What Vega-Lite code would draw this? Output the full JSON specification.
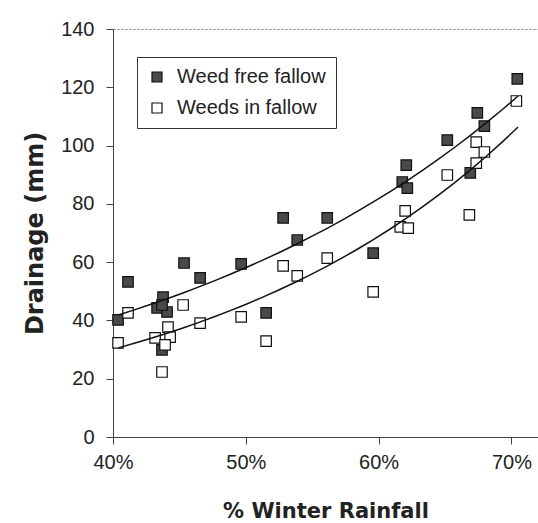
{
  "$schema": "https://vega.github.io/schema/vega-lite/v6.json",
  "width": 425,
  "height": 408,
  "autosize": {"type": "none"},
  "padding": {"left": 113, "top": 29, "right": 0, "bottom": 86},
  "background": "white",
  "config": {
    "view": {"stroke": null},
    "font": "Liberation Sans",
    "axis": {
      "labelFont": "Liberation Sans",
      "labelFontSize": 20,
      "labelColor": "#222",
      "titleFont": "DejaVu Sans",
      "titleFontWeight": "bold",
      "titleColor": "#222",
      "domainColor": "#444",
      "tickColor": "#444",
      "grid": false,
      "tickSize": 7,
      "labelFlush": false
    }
  },
  "data": {
    "values": [
      {"series": "Weed free fallow", "rainfall": 0.4038, "drainage": 40.2},
      {"series": "Weed free fallow", "rainfall": 0.4113, "drainage": 53.2},
      {"series": "Weed free fallow", "rainfall": 0.4377, "drainage": 48.0},
      {"series": "Weed free fallow", "rainfall": 0.4332, "drainage": 44.3},
      {"series": "Weed free fallow", "rainfall": 0.4407, "drainage": 42.9},
      {"series": "Weed free fallow", "rainfall": 0.4369, "drainage": 45.3},
      {"series": "Weed free fallow", "rainfall": 0.4369, "drainage": 29.9},
      {"series": "Weed free fallow", "rainfall": 0.4535, "drainage": 59.7},
      {"series": "Weed free fallow", "rainfall": 0.4656, "drainage": 54.6},
      {"series": "Weed free fallow", "rainfall": 0.4965, "drainage": 59.4},
      {"series": "Weed free fallow", "rainfall": 0.5153, "drainage": 42.6},
      {"series": "Weed free fallow", "rainfall": 0.5281, "drainage": 75.2},
      {"series": "Weed free fallow", "rainfall": 0.5387, "drainage": 67.6},
      {"series": "Weed free fallow", "rainfall": 0.5613, "drainage": 75.2},
      {"series": "Weed free fallow", "rainfall": 0.5959, "drainage": 63.1},
      {"series": "Weed free fallow", "rainfall": 0.6178, "drainage": 87.5},
      {"series": "Weed free fallow", "rainfall": 0.6208, "drainage": 93.3},
      {"series": "Weed free fallow", "rainfall": 0.6216, "drainage": 85.4},
      {"series": "Weed free fallow", "rainfall": 0.6517, "drainage": 101.9},
      {"series": "Weed free fallow", "rainfall": 0.6690, "drainage": 90.6},
      {"series": "Weed free fallow", "rainfall": 0.6743, "drainage": 111.2},
      {"series": "Weed free fallow", "rainfall": 0.6796, "drainage": 106.7},
      {"series": "Weed free fallow", "rainfall": 0.7044, "drainage": 122.9},
      {"series": "Weeds in fallow", "rainfall": 0.4038, "drainage": 32.3},
      {"series": "Weeds in fallow", "rainfall": 0.4113, "drainage": 42.6},
      {"series": "Weeds in fallow", "rainfall": 0.4528, "drainage": 45.3},
      {"series": "Weeds in fallow", "rainfall": 0.4414, "drainage": 37.7},
      {"series": "Weeds in fallow", "rainfall": 0.4317, "drainage": 34.0},
      {"series": "Weeds in fallow", "rainfall": 0.4430, "drainage": 34.3},
      {"series": "Weeds in fallow", "rainfall": 0.4392, "drainage": 31.6},
      {"series": "Weeds in fallow", "rainfall": 0.4369, "drainage": 22.3},
      {"series": "Weeds in fallow", "rainfall": 0.4656, "drainage": 39.1},
      {"series": "Weeds in fallow", "rainfall": 0.4965, "drainage": 41.2},
      {"series": "Weeds in fallow", "rainfall": 0.5153, "drainage": 32.9},
      {"series": "Weeds in fallow", "rainfall": 0.5281, "drainage": 58.7},
      {"series": "Weeds in fallow", "rainfall": 0.5387, "drainage": 55.3},
      {"series": "Weeds in fallow", "rainfall": 0.5613, "drainage": 61.4},
      {"series": "Weeds in fallow", "rainfall": 0.5959, "drainage": 49.8},
      {"series": "Weeds in fallow", "rainfall": 0.6163, "drainage": 72.1},
      {"series": "Weeds in fallow", "rainfall": 0.6200, "drainage": 77.6},
      {"series": "Weeds in fallow", "rainfall": 0.6223, "drainage": 71.7},
      {"series": "Weeds in fallow", "rainfall": 0.6517, "drainage": 89.9},
      {"series": "Weeds in fallow", "rainfall": 0.6683, "drainage": 76.2},
      {"series": "Weeds in fallow", "rainfall": 0.6735, "drainage": 101.2},
      {"series": "Weeds in fallow", "rainfall": 0.6796, "drainage": 97.8},
      {"series": "Weeds in fallow", "rainfall": 0.6735, "drainage": 94.0},
      {"series": "Weeds in fallow", "rainfall": 0.7037, "drainage": 115.3}
    ]
  },
  "layer": [
    {
      "mark": {"type": "point", "shape": "square", "filled": true, "size": 110, "stroke": "#111", "strokeWidth": 1.2, "opacity": 1},
      "encoding": {
        "x": {
          "field": "rainfall", "type": "quantitative",
          "scale": {"domain": [0.4, 0.72], "nice": false, "zero": false},
          "axis": {"format": ".0%", "values": [0.4, 0.5, 0.6, 0.7], "title": "% Winter Rainfall", "titleFontSize": 21, "labelPadding": 8, "titlePadding": 28}
        },
        "y": {
          "field": "drainage", "type": "quantitative",
          "scale": {"domain": [0, 140], "nice": false},
          "axis": {
            "values": [0, 20, 40, 60, 80, 100, 120, 140],
            "title": "Drainage (mm)",
            "titleFontSize": 24,
            "labelPadding": 12,
            "titlePadding": 13,
            "grid": true,
            "gridDash": [2, 2],
            "gridColor": "#777",
            "gridOpacity": {"condition": {"test": "datum.value === 140", "value": 1}, "value": 0}
          }
        },
        "fill": {
          "field": "series", "type": "nominal",
          "scale": {"domain": ["Weed free fallow", "Weeds in fallow"], "range": ["#4a4a4a", "#ffffff"]},
          "legend": {
            "orient": "none",
            "legendX": 24,
            "legendY": 28,
            "title": null,
            "labelFontSize": 20,
            "labelFont": "Liberation Sans",
            "labelColor": "#222",
            "symbolType": "square",
            "symbolSize": 100,
            "symbolStrokeColor": "#111",
            "symbolStrokeWidth": 1.2,
            "padding": 10,
            "rowPadding": 11,
            "labelOffset": 10,
            "strokeColor": "#333",
            "fillColor": "white"
          }
        }
      }
    },
    {
      "transform": [
        {"regression": "drainage", "on": "rainfall", "groupby": ["series"], "method": "exp", "extent": [0.404, 0.705]}
      ],
      "mark": {"type": "line", "color": "#111", "strokeWidth": 1.5},
      "encoding": {
        "x": {"field": "rainfall", "type": "quantitative"},
        "y": {"field": "drainage", "type": "quantitative"},
        "detail": {"field": "series", "type": "nominal"}
      }
    }
  ]
}
